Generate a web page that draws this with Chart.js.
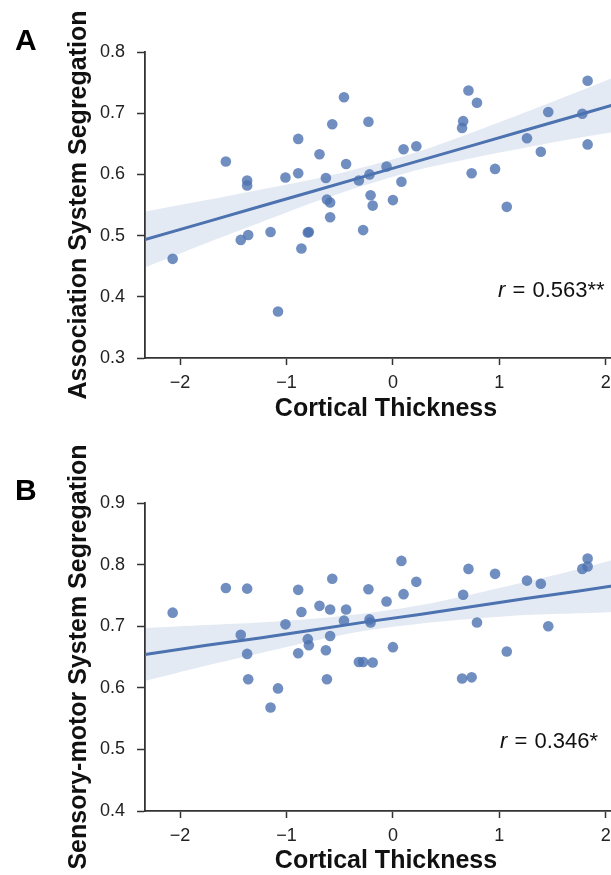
<!DOCTYPE html>
<html>
<head>
<meta charset="utf-8">
<script src="https://cdn.jsdelivr.net/npm/chart.js@4.4.1/dist/chart.umd.min.js"></script>
<style>
    body {
        margin: 0;
        width: 611px;
        height: 875px;
        overflow: hidden;
        background: #fff;
        position: relative;
        font-family: "Liberation Sans", Arial, sans-serif;
    }
    canvas { position: absolute; left: 0; }
    .letter { position: absolute; left: 15px; font-size: 30px; font-weight: bold; line-height: 1; color: #000; }
    .rtext { position: absolute; font-size: 22px; line-height: 1; word-spacing: 1px; color: #111; }
</style>
</head>
<body>
<canvas id="chartA" width="640" height="428" style="top:0"></canvas>
<canvas id="chartB" width="640" height="440" style="top:440px"></canvas>
<div class="letter" style="top:25px">A</div>
<div class="letter" style="top:475px">B</div>
<div class="rtext" style="left:498px; top:279px"><i>r</i> = 0.563**</div>
<div class="rtext" style="left:500px; top:730px"><i>r</i> = 0.346*</div>

<script>
// data
const thickness = [-2.07, -1.57, -1.43, -1.37, -1.37, -1.36, -1.15, -1.08, -1.01, -0.89,
    -0.89, -0.86, -0.80, -0.79, -0.69, -0.63, -0.62, -0.59, -0.59, -0.57,
    -0.46, -0.44, -0.32, -0.28, -0.23, -0.22, -0.21, -0.19, -0.06, 0.00,
    0.08, 0.10, 0.22, 0.65, 0.66, 0.71, 0.74, 0.79, 0.96, 1.07,
    1.26, 1.39, 1.46, 1.78, 1.83, 1.83];
const assocSeg = [0.462, 0.621, 0.493, 0.590, 0.582, 0.501, 0.506, 0.376, 0.595, 0.602,
    0.658, 0.479, 0.505, 0.506, 0.633, 0.594, 0.559, 0.554, 0.530, 0.682,
    0.726, 0.617, 0.590, 0.509, 0.686, 0.600, 0.566, 0.549, 0.613, 0.558,
    0.588, 0.641, 0.646, 0.676, 0.687, 0.737, 0.602, 0.717, 0.609, 0.547,
    0.659, 0.637, 0.702, 0.699, 0.753, 0.649];
const sensorySeg = [0.722, 0.762, 0.686, 0.761, 0.655, 0.614, 0.568, 0.599, 0.703, 0.759,
    0.656, 0.723, 0.679, 0.669, 0.733, 0.661, 0.614, 0.727, 0.684, 0.777,
    0.709, 0.727, 0.642, 0.642, 0.760, 0.711, 0.706, 0.641, 0.740, 0.666,
    0.806, 0.752, 0.772, 0.615, 0.751, 0.793, 0.617, 0.706, 0.785, 0.659,
    0.774, 0.769, 0.700, 0.793, 0.810, 0.797];

const xTicks = [-2, -1, 0, 1, 2];
const yTicksA = [0.3, 0.4, 0.5, 0.6, 0.7, 0.8];
const yTicksB = [0.4, 0.5, 0.6, 0.7, 0.8, 0.9];

// regression line and confidence band
const bandX = [-2.33, -1.75, -1.25, -0.75, -0.25, 0.25, 0.75, 1.25, 1.75, 2.2];
const fitA = [0.4935, 0.5225, 0.5475, 0.5725, 0.5975, 0.6225, 0.6475, 0.6725, 0.6975, 0.720];
const upperA = [0.539, 0.558, 0.575, 0.592, 0.613, 0.638, 0.669, 0.702, 0.736, 0.767];
const lowerA = [0.448, 0.488, 0.521, 0.554, 0.583, 0.608, 0.627, 0.644, 0.660, 0.673];
const fitB = [0.654, 0.669, 0.681, 0.694, 0.707, 0.719, 0.732, 0.745, 0.757, 0.769];
const upperB = [0.697, 0.702, 0.706, 0.712, 0.721, 0.734, 0.752, 0.772, 0.793, 0.814];
const lowerB = [0.611, 0.636, 0.656, 0.676, 0.693, 0.704, 0.712, 0.718, 0.721, 0.724];

const blue = "#4c72b0";
const font = "'Liberation Sans', Arial, sans-serif";

function toPoints(xs, ys) {
    return xs.map((x, i) => ({ x: x, y: ys[i] }));
}

function makeChart(id, yValues, fit, upper, lower, yTicks, yTitle, padTop, xAxisHeight) {
    return new Chart(document.getElementById(id), {
        type: "scatter",
        data: {
            datasets: [{
                data: toPoints(thickness, yValues),
                backgroundColor: "rgba(76,114,176,0.8)",
                borderWidth: 0,
                pointRadius: 5.3,
                pointHoverRadius: 5.3,
                order: 1
            }, {
                type: "line",
                data: toPoints(bandX, fit),
                borderColor: blue,
                borderWidth: 3,
                pointRadius: 0,
                fill: false,
                order: 2
            }, {
                type: "line",
                data: toPoints(bandX, upper),
                borderColor: "transparent",
                borderWidth: 0,
                pointRadius: 0,
                tension: 0.3,
                fill: false,
                order: 3
            }, {
                type: "line",
                data: toPoints(bandX, lower),
                borderColor: "transparent",
                borderWidth: 0,
                pointRadius: 0,
                tension: 0.3,
                fill: "-1",
                backgroundColor: "rgba(76,114,176,0.15)",
                order: 3
            }]
        },
        options: {
            responsive: false,
            animation: false,
            devicePixelRatio: 1,
            layout: {
                padding: { top: padTop, left: 60, right: 13, bottom: 0 }
            },
            plugins: {
                legend: { display: false },
                tooltip: { enabled: false }
            },
            scales: {
                x: {
                    type: "linear",
                    min: bandX[0],
                    max: bandX[bandX.length - 1],
                    afterBuildTicks: axis => { axis.ticks = xTicks.map(v => ({ value: v })); },
                    afterFit: axis => { axis.height = xAxisHeight; },
                    border: { display: true, color: "#333", width: 1.8 },
                    grid: { drawOnChartArea: false, tickLength: 7, tickColor: "#333", tickWidth: 1.5 },
                    ticks: {
                        padding: 7,
                        color: "#222",
                        font: { family: font, size: 18 },
                        callback: v => (v < 0 ? "\u2212" + Math.abs(v) : String(v))
                    },
                    title: {
                        display: true,
                        text: "Cortical Thickness",
                        color: "#111",
                        font: { family: font, size: 25, weight: "bold" }
                    }
                },
                y: {
                    min: yTicks[0],
                    max: yTicks[yTicks.length - 1],
                    afterBuildTicks: axis => { axis.ticks = yTicks.map(v => ({ value: v })); },
                    afterFit: axis => { axis.width = 85; },
                    border: { display: true, color: "#333", width: 1.8 },
                    grid: { drawOnChartArea: false, tickLength: 8, tickColor: "#333", tickWidth: 1.5 },
                    ticks: {
                        padding: 12,
                        color: "#222",
                        font: { family: font, size: 18 },
                        callback: v => v.toFixed(1)
                    },
                    title: {
                        display: true,
                        text: yTitle,
                        color: "#111",
                        font: { family: font, size: 25, weight: "bold" }
                    }
                }
            }
        }
    });
}

// panel A
const chartA = makeChart("chartA", assocSeg, fitA, upperA, lowerA, yTicksA,
    "Association System Segregation", 52, 70);

// panel B
const chartB = makeChart("chartB", sensorySeg, fitB, upperB, lowerB, yTicksB,
    "Sensory-motor System Segregation", 63, 69);
</script>
</body>
</html>
